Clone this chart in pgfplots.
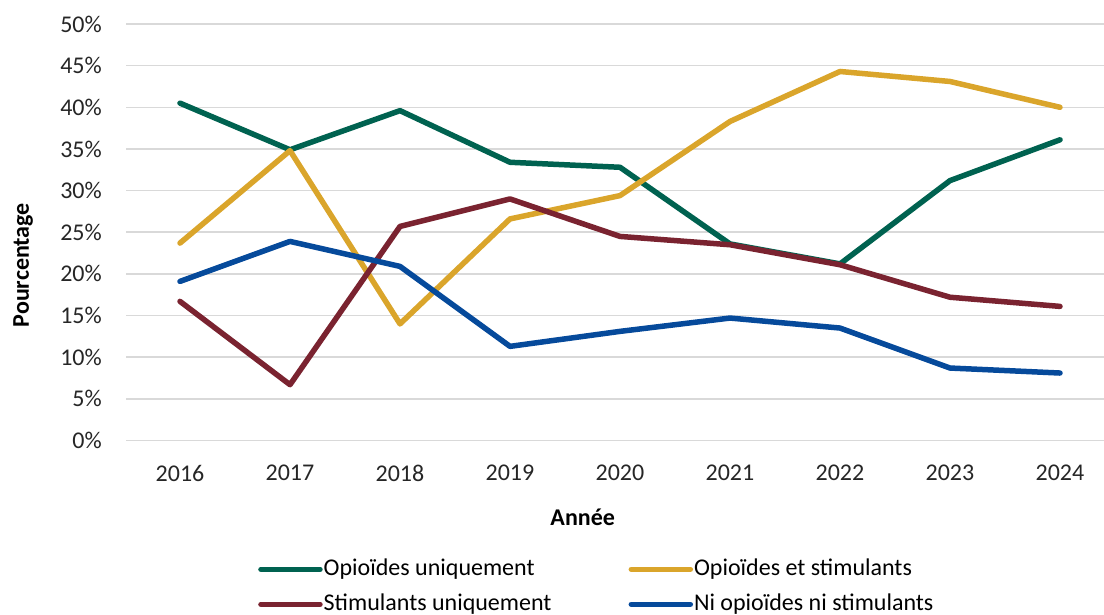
\documentclass[border=0pt]{standalone}
\usepackage{fontspec}
\setmainfont{Carlito}
\usepackage{pgfplots}
\pgfplotsset{compat=1.18}

\definecolor{cGreen}{RGB}{0,98,80}
\definecolor{cGold}{RGB}{218,165,43}
\definecolor{cMaroon}{RGB}{122,35,48}
\definecolor{cBlue}{RGB}{6,74,155}
\definecolor{cGrid}{RGB}{217,217,217}
\definecolor{cText}{RGB}{38,38,38}

\newcommand{\chartfont}{\fontsize{24pt}{29pt}\selectfont}

\begin{document}
\begin{tikzpicture}
\useasboundingbox (0pt,0pt) rectangle (1104pt,614pt);
\begin{axis}[
  at={(126pt,173.5pt)}, anchor=south west,
  scale only axis, width=978pt, height=416.5pt,
  xmin=2015.509, xmax=2024.4, ymin=0, ymax=50,
  xtick={2016,2017,...,2024},
  xticklabels={2016,2017,2018,2019,2020,2021,2022,2023,2024},
  ytick={0,5,...,50},
  yticklabels={0\%,5\%,10\%,15\%,20\%,25\%,30\%,35\%,40\%,45\%,50\%},
  major tick length=0pt,
  axis line style={draw=none},
  ymajorgrids,
  grid style={cGrid, line width=1.6pt},
  tick label style={font=\chartfont, text=cText, inner sep=0pt},
  yticklabel style={anchor=east, xshift=-24pt},
  xticklabel style={anchor=north, yshift=-24.5pt},
  /pgf/number format/assume math mode=true,
  xlabel={\textbf{Année}},
  ylabel={\textbf{Pourcentage}},
  every axis x label/.style={at={(axis description cs:0.467,-0.184)}, anchor=center, font=\chartfont},
  every axis y label/.style={at={(axis description cs:-0.1053,0.421)}, rotate=90, anchor=center, font=\chartfont},
  every axis plot/.append style={line width=5.5pt, line cap=round, line join=round},
  legend columns=2,
  legend cell align=left,
  legend image code/.code={
    \path (0pt,0pt) -- (59pt,0pt);
    \draw[#1, line width=5.5pt, line cap=round] (2.75pt,0pt) -- (56.25pt,0pt);},
  legend style={
    draw=none, fill=none, inner sep=0pt,
    at={(axis description cs:0.135,-0.28)}, anchor=north west,
    font=\chartfont,
    nodes={inner sep=1pt, text height=17pt, text depth=5pt},
    row sep=11pt,
    /tikz/every even column/.append style={column sep=76pt},
  },
]
\addplot[cGreen] coordinates {
  (2016,40.5) (2017,34.9) (2018,39.6) (2019,33.4) (2020,32.8)
  (2021,23.6) (2022,21.2) (2023,31.2) (2024,36.1)};
\addlegendentry{Opioïdes uniquement}
\addplot[cGold] coordinates {
  (2016,23.7) (2017,34.8) (2018,14.0) (2019,26.6) (2020,29.4)
  (2021,38.3) (2022,44.3) (2023,43.1) (2024,40.0)};
\addlegendentry{Opioïdes et stimulants}
\addplot[cMaroon] coordinates {
  (2016,16.7) (2017,6.7) (2018,25.7) (2019,29.0) (2020,24.5)
  (2021,23.5) (2022,21.1) (2023,17.2) (2024,16.1)};
\addlegendentry{Stimulants uniquement}
\addplot[cBlue] coordinates {
  (2016,19.1) (2017,23.9) (2018,20.9) (2019,11.3) (2020,13.1)
  (2021,14.7) (2022,13.5) (2023,8.7) (2024,8.1)};
\addlegendentry{Ni opioïdes ni stimulants}
\end{axis}
\end{tikzpicture}
\end{document}
